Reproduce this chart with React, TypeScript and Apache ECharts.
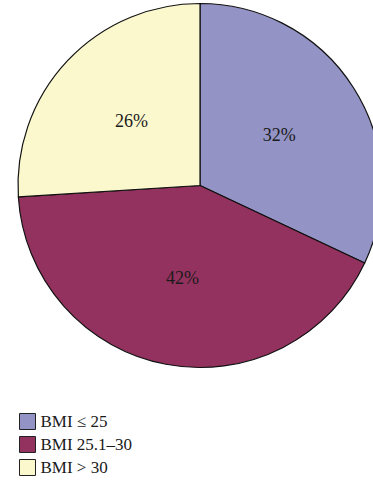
import React, { useEffect, useRef } from "react";
import * as echarts from "echarts";

const categories = ["BMI \u2264 25", "BMI 25.1\u201330", "BMI > 30"];
const values = [32, 42, 26];
const colors = ["#9393C5", "#94325F", "#FBF8CE"];

export default function App() {
  const ref = useRef<HTMLDivElement>(null);
  useEffect(() => {
    const chart = echarts.init(ref.current!, null, { renderer: "svg" });
    chart.setOption({
      animation: false,
      legend: {
        orient: "vertical",
        left: 14,
        top: 408,
        icon: "rect",
        itemWidth: 16,
        itemHeight: 16,
        itemGap: 6,
        textStyle: { fontFamily: "Liberation Serif", fontSize: 17, color: "#1a1a1a" },
        itemStyle: { borderColor: "#222", borderWidth: 1 },
        data: categories,
      },
      series: [
        {
          type: "pie",
          center: [200, 185.5],
          radius: 182,
          startAngle: 90,
          clockwise: true,
          label: {
            position: "inside",
            formatter: "{c}%",
            fontFamily: "Liberation Serif",
            fontSize: 18,
            color: "#1a1a1a",
          },
          labelLine: { show: false },
          itemStyle: { borderColor: "#111", borderWidth: 1.2 },
          emphasis: { disabled: true },
          data: categories.map((name, i) => ({
            name,
            value: values[i],
            itemStyle: { color: colors[i] },
          })),
        },
      ],
    });
    return () => chart.dispose();
  }, []);
  return (
    <div
      ref={ref}
      style={{ position: "fixed", left: 0, top: 0, width: 373, height: 488, background: "#fff" }}
    />
  );
}
